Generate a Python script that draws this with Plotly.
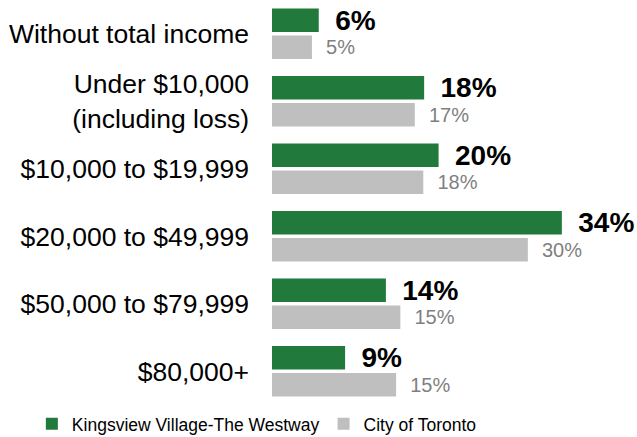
import plotly.graph_objects as go

categories = ["Without total income", "Under $10,000<br>(including loss)", "$10,000 to $19,999",
              "$20,000 to $49,999", "$50,000 to $79,999", "$80,000+"]
kingsview = [5.5, 17.9, 19.6, 34.1, 13.4, 8.6]
kingsview_labels = ["6%", "18%", "20%", "34%", "14%", "9%"]
toronto = [4.7, 16.8, 17.8, 30.1, 15.1, 14.6]
toronto_labels = ["5%", "17%", "18%", "30%", "15%", "15%"]

GREEN = "#217A3B"
GREY = "#BFBFBF"
FONT = "Liberation Sans, Arial, sans-serif"

fig = go.Figure()
fig.add_trace(go.Bar(
    y=categories, x=kingsview, orientation="h", name="Kingsview Village-The Westway",
    marker=dict(color=GREEN, line=dict(width=0)),
    text=["\u00a0\u2009" + t for t in kingsview_labels], textposition="outside",
    textfont=dict(family=FONT, size=28, color="black", weight="bold"),
    constraintext="none", cliponaxis=False, legend="legend",
))
fig.add_trace(go.Bar(
    y=categories, x=toronto, orientation="h", name="City of Toronto",
    marker=dict(color=GREY, line=dict(width=0)),
    text=["\u00a0\u00a0" + t for t in toronto_labels], textposition="outside",
    textfont=dict(family=FONT, size=20, color="#7F7F7F"),
    constraintext="none", cliponaxis=False, legend="legend2",
))

legend_common = dict(orientation="h", xref="container", yref="container",
                     xanchor="left", yanchor="middle", y=0.03,
                     font=dict(size=17.5, family=FONT, color="black"),
                     itemwidth=30, bgcolor="rgba(0,0,0,0)")

fig.update_layout(
    width=637, height=437,
    margin=dict(l=272, r=25, t=0, b=32, autoexpand=False),
    paper_bgcolor="white", plot_bgcolor="white",
    barmode="group", bargap=0.206, bargroupgap=0.123,
    font=dict(family=FONT, color="black"),
    showlegend=True,
    legend=dict(legend_common, x=0.05),
    legend2=dict(legend_common, x=0.508),
)
fig.update_xaxes(range=[0, 40], visible=False, showgrid=False, zeroline=False)
fig.update_yaxes(autorange="reversed", showgrid=False, zeroline=False, showline=False,
                 ticks="", tickfont=dict(size=26.5, family=FONT, color="black"),
                 ticklabelstandoff=22)

fig.write_html("out.html", config={"displayModeBar": False},
               post_script="document.body.style.margin='0';")
